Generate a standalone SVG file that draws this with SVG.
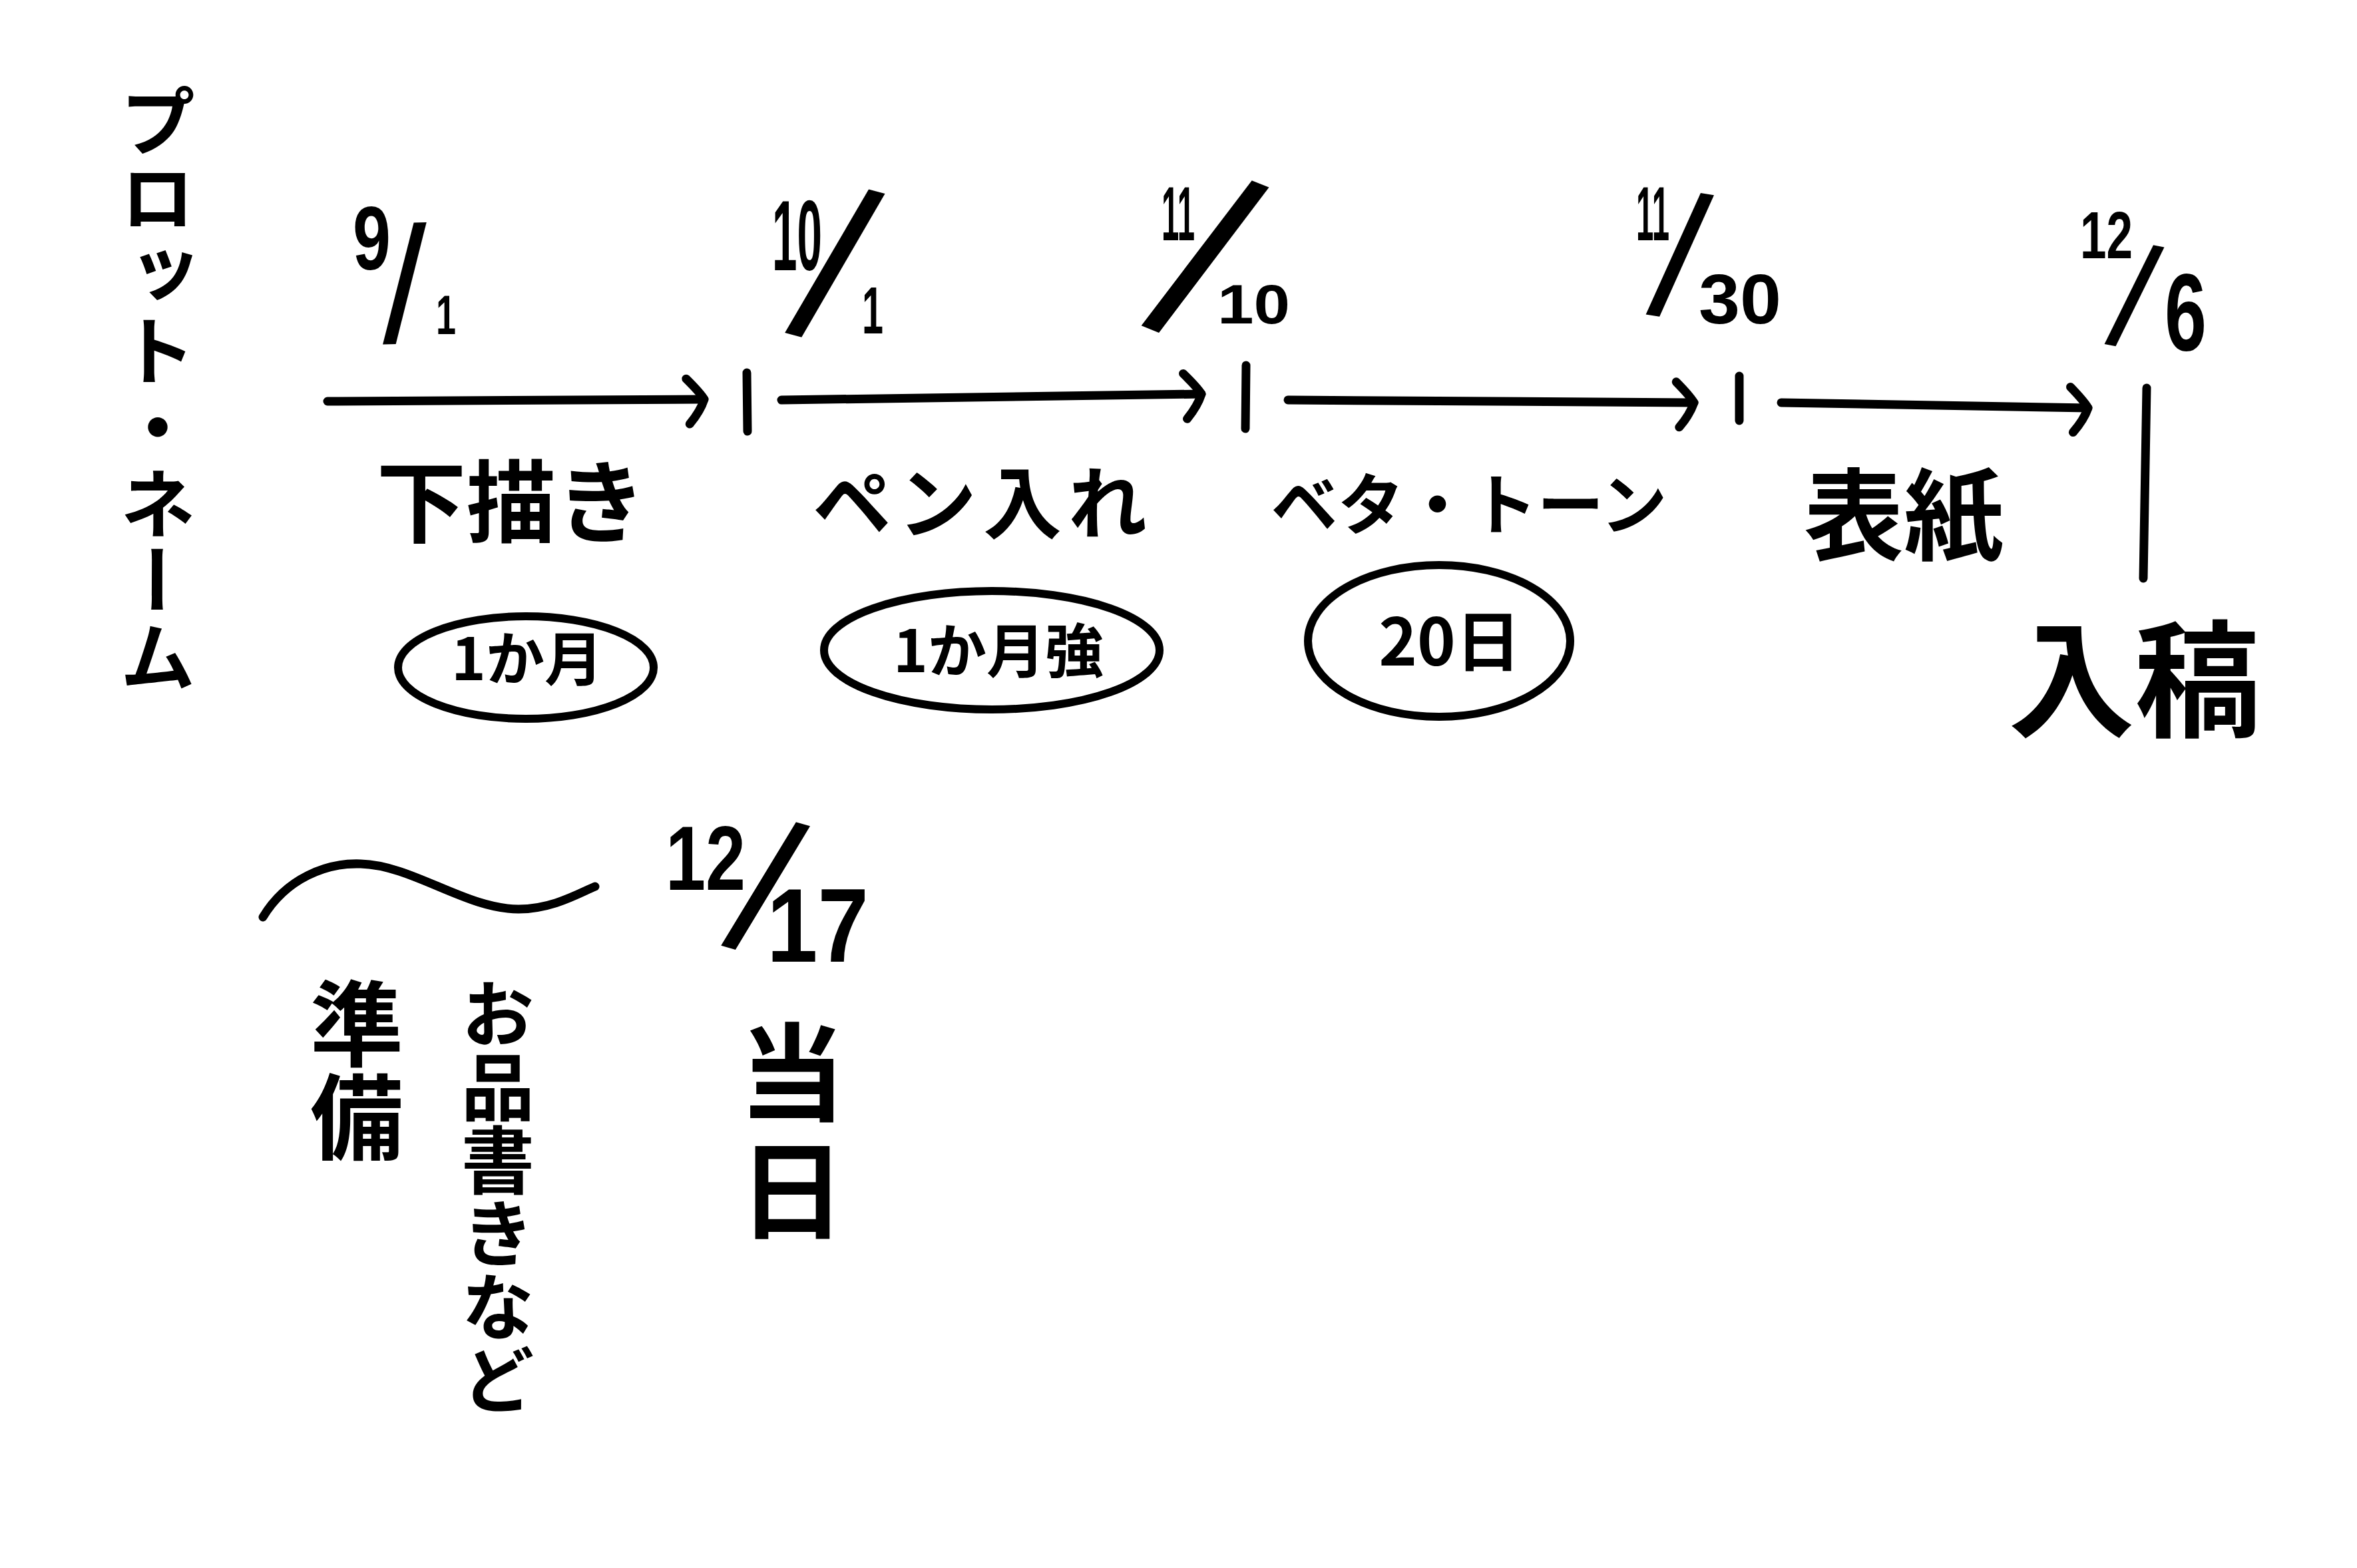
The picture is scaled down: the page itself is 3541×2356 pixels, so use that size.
<svg xmlns="http://www.w3.org/2000/svg" width="3541" height="2356" viewBox="0 0 3541 2356">
<style>
.jp { font-family: "Noto Sans CJK JP", "Noto Sans CJK SC", sans-serif; font-weight: 700; fill: #000; }
.v { writing-mode: vertical-rl; }
.c { text-anchor: middle; }
.num { font-family: "Liberation Sans", Arial, sans-serif; font-weight: 700; fill: #000; }
.sl { font-weight: 400; }
.ln { stroke: #000; stroke-width: 13; fill: none; stroke-linecap: round; stroke-linejoin: round; }
.ov { stroke: #000; stroke-width: 12; fill: none; }
</style>
<defs>
<marker id="chev" markerUnits="userSpaceOnUse" viewBox="-50 -50 70 100" markerWidth="70" markerHeight="100" refX="0" refY="0" orient="auto">
<path d="M-27,-31 Q-6,-10 0,0 Q-6,18 -22,37" fill="none" stroke="#000" stroke-width="13" stroke-linecap="round" stroke-linejoin="round"/>
</marker>
</defs>
<rect width="3541" height="2356" fill="#fff"/>

<g id="plot-name">
<text class="jp v" x="237" y="124" font-size="115">プロット・ネーム</text>
</g>

<g id="date-0901"><text class="num"><tspan x="530" y="405" font-size="135" textLength="57" lengthAdjust="spacingAndGlyphs">9</tspan><tspan class="sl" x="575" y="515" font-size="248" rotate="-1">/</tspan><tspan x="655" y="502" font-size="84" textLength="30" lengthAdjust="spacingAndGlyphs">1</tspan></text></g>
<g id="date-1001"><text class="num"><tspan x="1160" y="406" font-size="150" textLength="75" lengthAdjust="spacingAndGlyphs">10</tspan><tspan class="sl" x="1180" y="497" font-size="328" rotate="15">/</tspan><tspan x="1295" y="501" font-size="100" textLength="32" lengthAdjust="spacingAndGlyphs">1</tspan></text></g>
<g id="date-1110"><text class="num"><tspan x="1745" y="361" font-size="115" textLength="50" lengthAdjust="spacingAndGlyphs">11</tspan><tspan class="sl" x="1716" y="486" font-size="360" rotate="22">/</tspan><tspan x="1829" y="486" font-size="84" textLength="109" lengthAdjust="spacingAndGlyphs">10</tspan></text></g>
<g id="date-1130"><text class="num"><tspan x="2458" y="361" font-size="115" textLength="50" lengthAdjust="spacingAndGlyphs">11</tspan><tspan class="sl" x="2473" y="470" font-size="263" rotate="9">/</tspan><tspan x="2552" y="486" font-size="105" textLength="124" lengthAdjust="spacingAndGlyphs">30</tspan></text></g>
<g id="date-1206"><text class="num"><tspan x="3125" y="388" font-size="100" textLength="79" lengthAdjust="spacingAndGlyphs">12</tspan><tspan class="sl" x="3162" y="515" font-size="218" rotate="11">/</tspan><tspan x="3252" y="526" font-size="165" textLength="63" lengthAdjust="spacingAndGlyphs">6</tspan></text></g>

<g id="connectors">
<line class="ln" x1="492" y1="603" x2="1058" y2="600" marker-end="url(#chev)"/>
<line class="ln" x1="1122" y1="560" x2="1123" y2="648"/>
<line class="ln" x1="1174" y1="601" x2="1805" y2="592" marker-end="url(#chev)"/>
<line class="ln" x1="1872" y1="549" x2="1871" y2="644"/>
<line class="ln" x1="1935" y1="601" x2="2545" y2="605" marker-end="url(#chev)"/>
<line class="ln" x1="2613" y1="565" x2="2613" y2="632"/>
<line class="ln" x1="2676" y1="605" x2="3137" y2="613" marker-end="url(#chev)"/>
<line class="ln" x1="3225" y1="583" x2="3220" y2="869"/>
<path class="ln" d="M395,1378 C430,1320 490,1296 542,1298 C620,1300 700,1366 779,1366 C830,1366 870,1342 894,1332"/>
</g>

<g id="task-shitagaki"><text class="jp c" x="768" y="805" font-size="135">下描き</text></g>
<g id="task-penire"><text class="jp c" x="1477" y="800" font-size="118" letter-spacing="10">ペン入れ</text></g>
<g id="task-beta"><text class="jp c" x="2207" y="795" font-size="100">ベタ・トーン</text></g>
<g id="task-hyoshi"><text class="jp c" x="2860" y="830" font-size="150">表紙</text></g>
<g id="submission"><text class="jp c" x="3207" y="1092" font-size="190">入稿</text></g>

<g id="dur-1"><ellipse class="ov" cx="790" cy="1003" rx="192" ry="77"/><text class="jp c" x="792" y="1022" font-size="88">1か月</text></g>
<g id="dur-2"><ellipse class="ov" cx="1490" cy="977" rx="252" ry="89"/><text class="jp c" x="1500" y="1010" font-size="88">1か月強</text></g>
<g id="dur-3"><ellipse class="ov" cx="2162" cy="963" rx="197" ry="114"/><text class="jp c" x="2178" y="1000" font-size="98">20日</text></g>

<g id="date-1217"><text class="num"><tspan x="1000" y="1337" font-size="138" textLength="120" lengthAdjust="spacingAndGlyphs">12</tspan><tspan class="sl" x="1084" y="1418" font-size="285" rotate="16">/</tspan><tspan x="1152" y="1445" font-size="158" textLength="153" lengthAdjust="spacingAndGlyphs">17</tspan></text></g>

<g id="prep"><text class="jp v" x="536" y="1468" font-size="140">準備</text></g>
<g id="prep-note"><text class="jp v" x="748" y="1468" font-size="110">お品書きなど</text></g>
<g id="event-day"><text class="jp v" x="1190" y="1531" font-size="160" letter-spacing="17">当日</text></g>
</svg>
